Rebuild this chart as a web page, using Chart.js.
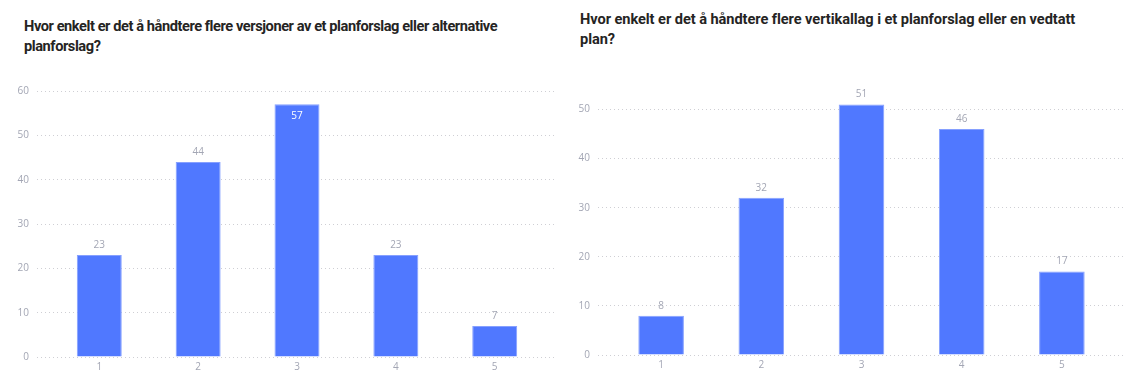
<!DOCTYPE html>
<html>
<head>
<meta charset="utf-8">
<script src="https://cdn.jsdelivr.net/npm/chart.js@4"></script>
<style>
  html, body { margin: 0; padding: 0; background: #ffffff; }
  body { width: 1135px; height: 383px; position: relative; overflow: hidden; font-family: "Open Sans", "Noto Sans", sans-serif; }
  .title { position: absolute; font-family: Roboto, "Open Sans", sans-serif; font-weight: 700; font-size: 14.6px; line-height: 20px; color: #252423; white-space: nowrap; }
  #t1 { left: 24px; top: 16px; }
  #t2 { left: 580px; top: 9px; }
  .wrap { position: absolute; top: 0; width: 570px; height: 383px; }
  #w1 { left: 0; }
  #w2 { left: 565px; }
</style>
</head>
<body>
<div class="title" id="t1"><span class="l1" data-w="473">Hvor enkelt er det å håndtere flere versjoner av et planforslag eller alternative</span><br><span>planforslag?</span></div>
<div class="title" id="t2"><span class="l1" data-w="495">Hvor enkelt er det å håndtere flere vertikallag i et planforslag eller en vedtatt</span><br><span>plan?</span></div>
<div class="wrap" id="w1"><canvas id="c1" width="570" height="383"></canvas></div>
<div class="wrap" id="w2"><canvas id="c2" width="570" height="383"></canvas></div>
<script>
const categories = [1, 2, 3, 4, 5];
const versionsValues = [23, 44, 57, 23, 7];
const vertikalValues = [8, 32, 51, 46, 17];
const versionsYMax = 60;
const vertikalYMax = 56;

const BAR = '#5078FF';
const BAR_EDGE = '#86A0FF';
const TICK = '#A3A6B4';
const GRID = '#CFCFD4';

// fit the title's first line to the width it has in the reference (via letter spacing)
document.querySelectorAll('.title').forEach(t => {
  const l1 = t.querySelector('.l1');
  const target = parseFloat(l1.dataset.w);
  const w = l1.getBoundingClientRect().width;
  const n = l1.textContent.length;
  t.style.letterSpacing = ((target - w) / n).toFixed(3) + 'px';
});

const valueLabels = {
  id: 'valueLabels',
  afterDatasetsDraw(chart) {
    const ctx = chart.ctx;
    const meta = chart.getDatasetMeta(0);
    const ds = chart.data.datasets[0];
    ctx.save();
    ctx.font = '10px "Open Sans", "Noto Sans", sans-serif';
    ctx.textAlign = 'center';
    ctx.textBaseline = 'middle';
    meta.data.forEach((bar, i) => {
      const v = ds.data[i].y;
      let y = bar.y - 10;
      let color = TICK;
      if (y - 6 < chart.chartArea.top) {
        y = bar.y + 11.5;
        color = '#FFFFFF';
      }
      ctx.fillStyle = color;
      ctx.fillText(String(v), bar.x, y);
    });
    ctx.restore();
  }
};

function makeChart(id, values, yMax, pad, yWidth) {
  const points = categories.map((c, i) => ({ x: c, y: values[i] }));
  return new Chart(document.getElementById(id), {
    type: 'bar',
    data: {
      datasets: [{
        data: points,
        backgroundColor: BAR,
        borderColor: BAR_EDGE,
        borderWidth: 1,
        borderSkipped: 'bottom',
        categoryPercentage: 1,
        barPercentage: 0.455
      }]
    },
    options: {
      responsive: false,
      animation: false,
      events: [],
      layout: { padding: pad },
      plugins: { legend: { display: false }, tooltip: { enabled: false } },
      scales: {
        x: {
          type: 'linear',
          offset: false,
          min: 0.37,
          max: 5.63,
          afterBuildTicks: (s) => { s.ticks = categories.map(c => ({ value: c })); },
          afterFit: (s) => { s.height = 26; },
          grid: { display: false, drawTicks: false },
          border: { display: false },
          ticks: {
            color: TICK,
            padding: 4,
            font: { size: 10, family: '"Open Sans", "Noto Sans", sans-serif' },
            callback: (v) => String(v)
          }
        },
        y: {
          min: 0,
          max: yMax,
          afterFit: (s) => { s.width = yWidth; },
          ticks: {
            stepSize: 10,
            includeBounds: false,
            color: TICK,
            padding: 8,
            font: { size: 10, family: '"Open Sans", "Noto Sans", sans-serif' }
          },
          grid: {
            color: GRID,
            lineWidth: 1,
            drawTicks: false
          },
          border: { display: false, dash: [1, 3] }
        }
      }
    },
    plugins: [valueLabels]
  });
}

makeChart('c1', versionsValues, versionsYMax, { top: 91, right: 13, bottom: 0, left: 0 }, 37);
makeChart('c2', vertikalValues, vertikalYMax, { top: 80, right: 10, bottom: 2, left: 0 }, 33);
</script>
</body>
</html>
